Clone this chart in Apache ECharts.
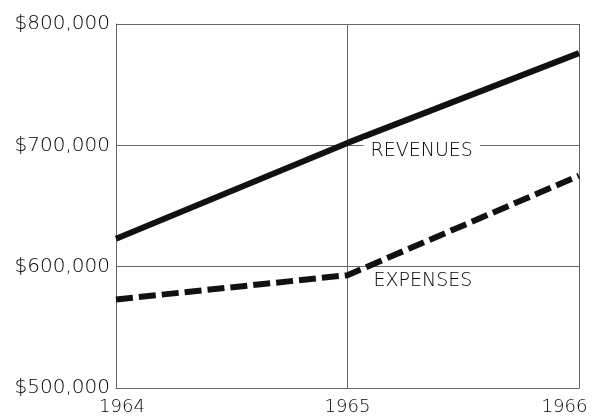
<!DOCTYPE html>
<html>
<head>
<meta charset="utf-8">
<script src="https://cdn.jsdelivr.net/npm/echarts@6/dist/echarts.min.js"></script>
<style>
  html, body { margin: 0; padding: 0; background: #fff; }
  #chart { width: 603px; height: 416px; }
</style>
</head>
<body>
<div id="chart"></div>
<script>
// Annual figures, in dollars
const years = ['1964', '1965', '1966'];
const revenues = [623000, 702000, 776000];
const expenses = [573000, 593000, 675000];
const yTicks = [500000, 600000, 700000, 800000];

const ink = '#111';
const rule = '#666';
const textColor = '#000';
const font = 'DejaVu Sans';

function dollars(v) {
  return '$' + v.toLocaleString('en-US');
}

// In-chart name placed beside the 1965 point of a series
function nameLabel(text, distance, dy, boxed) {
  const l = {
    show: true,
    position: 'right',
    distance: distance,
    offset: [0, dy],
    formatter: text,
    fontFamily: font,
    fontWeight: 200,
    fontSize: 19,
    color: textColor
  };
  if (boxed) {
    l.backgroundColor = '#fff';
    l.padding = [2, 7, 2, 7];
  }
  return l;
}

const chart = echarts.init(document.getElementById('chart'), null, { renderer: 'canvas' });

chart.setOption({
  animation: false,
  backgroundColor: '#fff',
  grid: { left: 116, right: 24, top: 24, bottom: 25, containLabel: false },
  xAxis: {
    type: 'category',
    data: years,
    boundaryGap: false,
    axisLine: { show: true, lineStyle: { color: rule, width: 1 } },
    axisTick: { show: false },
    splitLine: { show: true, interval: 0, lineStyle: { color: rule, width: 1 } },
    axisLabel: {
      interval: 0,
      margin: 10,
      formatter: function (v) {
        if (v === years[0]) return '{a|' + v + '}';
        if (v === years[years.length - 1]) return '{c|' + v + '}';
        return '{b|' + v + '}';
      },
      rich: {
        a: { fontFamily: font, fontWeight: 200, fontSize: 18, color: textColor, padding: [0, 0, 0, 12] },
        b: { fontFamily: font, fontWeight: 200, fontSize: 18, color: textColor },
        c: { fontFamily: font, fontWeight: 200, fontSize: 18, color: textColor, padding: [0, 29, 0, 0] }
      }
    }
  },
  yAxis: {
    type: 'value',
    min: yTicks[0],
    max: yTicks[yTicks.length - 1],
    interval: 100000,
    axisLine: { show: true, lineStyle: { color: rule, width: 1 } },
    axisTick: { show: false },
    splitLine: { show: true, lineStyle: { color: rule, width: 1 } },
    axisLabel: {
      margin: 6,
      fontFamily: font,
      fontWeight: 200,
      fontSize: 20,
      color: textColor,
      formatter: dollars
    }
  },
  series: [
    {
      name: 'REVENUES',
      type: 'line',
      data: revenues.map(function (v, i) {
        return i === 1 ? { value: v, label: nameLabel('REVENUES', 16, 8, true) } : v;
      }),
      showSymbol: true,
      symbol: 'circle',
      symbolSize: 0.01,
      lineStyle: { color: ink, width: 6, cap: 'butt' },
      z: 3
    },
    {
      name: 'EXPENSES',
      type: 'line',
      data: expenses.map(function (v, i) {
        return i === 1 ? { value: v, label: nameLabel('EXPENSES', 26, 6, false) } : v;
      }),
      showSymbol: true,
      symbol: 'circle',
      symbolSize: 0.01,
      lineStyle: { color: ink, width: 6, type: [17, 6], cap: 'butt' },
      z: 3
    }
  ]
});
</script>
</body>
</html>
